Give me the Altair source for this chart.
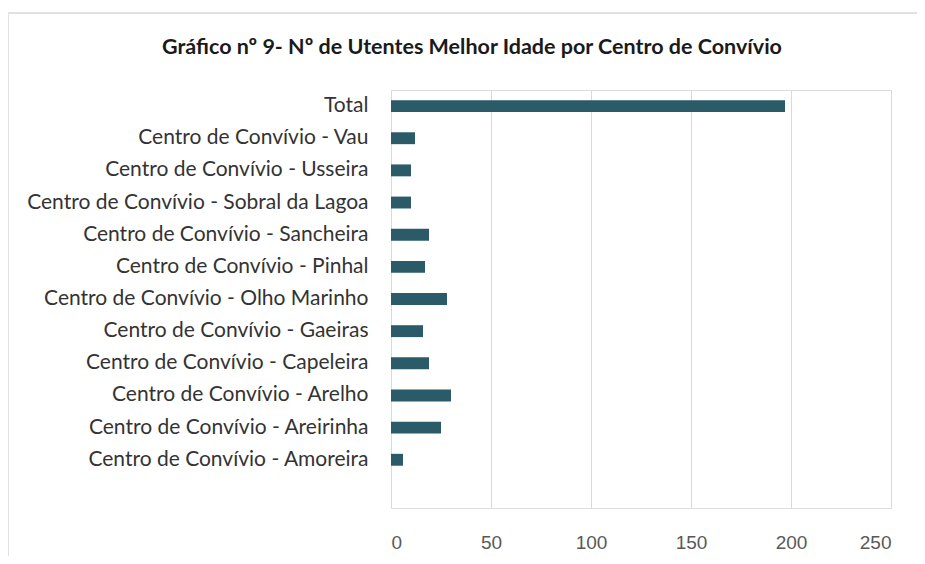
import altair as alt
import pandas as pd

title_text = "Gráfico nº 9- Nº de Utentes Melhor Idade por Centro de Convívio"
categories = [
    "Total",
    "Centro de Convívio - Vau",
    "Centro de Convívio - Usseira",
    "Centro de Convívio - Sobral da Lagoa",
    "Centro de Convívio - Sancheira",
    "Centro de Convívio - Pinhal",
    "Centro de Convívio - Olho Marinho",
    "Centro de Convívio - Gaeiras",
    "Centro de Convívio - Capeleira",
    "Centro de Convívio - Arelho",
    "Centro de Convívio - Areirinha",
    "Centro de Convívio - Amoreira",
]
values = [197, 12, 10, 10, 19, 17, 28, 16, 19, 30, 25, 6]
x_ticks = [0, 50, 100, 150, 200, 250]

df = pd.DataFrame({"centro": categories, "utentes": values})
domain = categories + [" "]

bars = alt.Chart(df).mark_bar(color="#2b5a68").encode(
    x=alt.X("utentes:Q",
            scale=alt.Scale(domain=[0, 250], nice=False),
            axis=alt.Axis(values=x_ticks, title=None, domain=False, ticks=False,
                          grid=True, gridColor="#d9d9d9", gridWidth=1,
                          labelFont="Liberation Sans", labelFontSize=19,
                          labelColor="#595959", labelPadding=25)),
    y=alt.Y("centro:N", sort=domain,
            scale=alt.Scale(domain=domain, paddingInner=0.63, paddingOuter=0.315),
            axis=alt.Axis(title=None, domain=False, ticks=False, grid=False,
                          labelFont="Lato", labelFontSize=21, labelColor="#333333",
                          labelPadding=23, labelLimit=500)),
)

# light frame of the chart area (top and left edges)
frame_left = alt.Chart(df).mark_rule(color="#e0e0e0", strokeWidth=1.5).encode(
    x=alt.value(-383), y=alt.value(-77), y2=alt.value(480))
frame_top = alt.Chart(df).mark_rule(color="#e0e0e0", strokeWidth=1.5).encode(
    x=alt.value(-383), x2=alt.value(560), y=alt.value(-77))

title = alt.Chart(pd.DataFrame({"t": [title_text]})).mark_text(
    font="Lato", fontSize=21.5, fontWeight="bold", color="#1a1a1a",
    align="center", baseline="alphabetic"
).encode(text="t:N", x=alt.value(81), y=alt.value(-36))

chart = alt.layer(frame_left, frame_top, bars, title).properties(
    width=500,
    height=418,
    autosize=alt.AutoSizeParams(type="none"),
    padding={"left": 383, "top": 82, "right": 26, "bottom": 48},
).configure_view(stroke=None).configure(background="white")

chart.save("out.html", embed_options={"renderer": "svg", "actions": False})
